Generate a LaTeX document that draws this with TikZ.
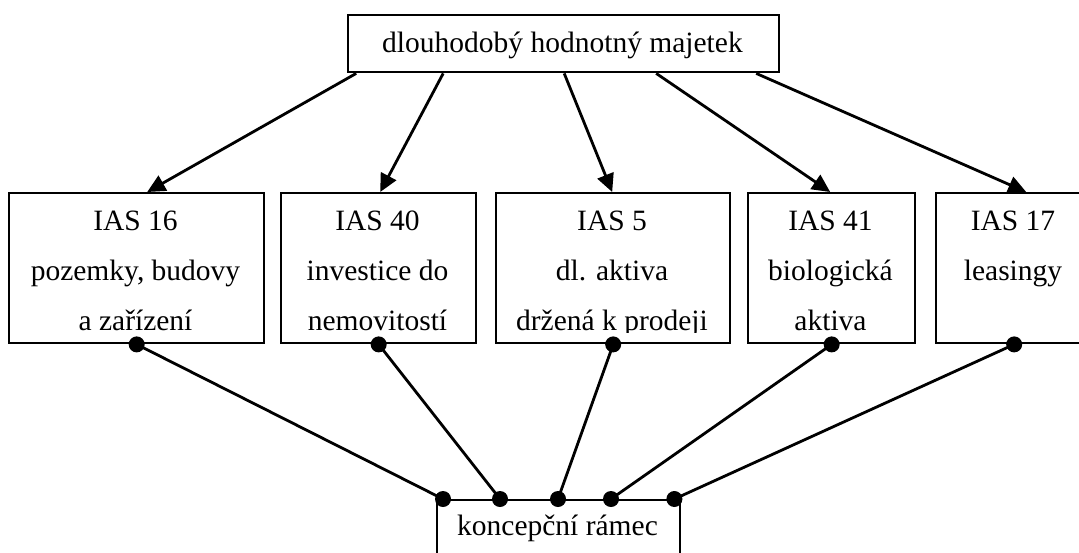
\documentclass[tikz,border=0pt]{standalone}
\usepackage{fontspec}
\setmainfont{Liberation Serif}
\usetikzlibrary{arrows.meta}
\begin{document}
\begin{tikzpicture}[x=1pt,y=-1pt,
  font=\fontsize{29.5}{35}\selectfont,
  box/.style={draw, line width=2.4pt, inner sep=0pt, anchor=north west},
  conn/.style={line width=2.8pt},
  arr/.style={conn, -{Triangle[length=18pt,width=17pt]}},
  lbl/.style={anchor=base, inner sep=0pt},
  dotn/.style={circle, fill=black, inner sep=0pt, minimum size=16pt}]
\useasboundingbox (0,0) rectangle (1079,552);
\clip (0,0) rectangle (1079,552);
% boxes
\node[box, minimum width=431pt, minimum height=57pt] (top) at (347,14) {};
\node[box, minimum width=255pt, minimum height=150pt] (b1) at (8,192) {};
\node[box, minimum width=195pt, minimum height=150pt] (b2) at (280,192) {};
\node[box, minimum width=234pt, minimum height=150pt] (b3) at (495,192) {};
\node[box, minimum width=167pt, minimum height=150pt] (b4) at (747,192) {};
\node[box, minimum width=156pt, minimum height=150pt] (b5) at (935,192) {};
\node[box, minimum width=243pt, minimum height=80pt] (bot) at (436,499) {};
% texts
\node[lbl] (ttop) at (562.5,52) {dlouhodobý hodnotný majetek};
\node[lbl] (tbot) at (557.5,535) {koncepční rámec};
\begin{scope}
\clip (0,0) rectangle (1079,332);
\node[lbl] (t1a) at (135.5,230) {IAS 16};
\node[lbl] (t1b) at (135.5,280) {pozemky, budovy};
\node[lbl] (t1c) at (135.5,330) {a zařízení};
\node[lbl] (t2a) at (377.5,230) {IAS 40};
\node[lbl] (t2b) at (377.5,280) {investice do};
\node[lbl] (t2c) at (377.5,330) {nemovitostí};
\node[lbl] (t3a) at (612,230) {IAS 5};
\node[lbl] (t3b) at (612,280) {dl. aktiva};
\node[lbl] (t3c) at (612,330) {držená k prodeji};
\node[lbl] (t4a) at (830.5,230) {IAS 41};
\node[lbl] (t4b) at (830.5,280) {biologická};
\node[lbl] (t4c) at (830.5,330) {aktiva};
\node[lbl] (t5a) at (1013,230) {IAS 17};
\node[lbl] (t5b) at (1013,280) {leasingy};
\end{scope}
% arrows from top box
\draw[arr] ([xshift=-207.5pt]top.south) -- ([xshift=10.5pt]b1.north);
\draw[arr] ([xshift=-120.5pt]top.south) -- ([xshift=1.5pt]b2.north);
\draw[arr] ([xshift=0.5pt]top.south) -- ([xshift=-1pt]b3.north);
\draw[arr] ([xshift=92.5pt]top.south) -- ([xshift=-1.5pt]b4.north);
\draw[arr] ([xshift=192.5pt]top.south) -- ([xshift=12pt]b5.north);
% bottom connection points
\coordinate (k1) at ([xshift=7pt]bot.north west);
\coordinate (k2) at ([xshift=64pt]bot.north west);
\coordinate (k3) at ([xshift=122pt]bot.north west);
\coordinate (k4) at ([xshift=175pt]bot.north west);
\coordinate (k5) at ([xshift=-7pt]bot.north east);
\draw[conn] (b1.south) -- (k1);
\draw[conn] (b2.south) -- (k2);
\draw[conn] (b3.south) -- (k3);
\draw[conn] (b4.south) -- (k4);
\draw[conn] (b5.south) -- (k5);
% dots
\foreach \p in {b1.south,b2.south,b3.south,b4.south,b5.south,k1,k2,k3,k4,k5}
  \node[dotn] at (\p) {};
\end{tikzpicture}
\end{document}
